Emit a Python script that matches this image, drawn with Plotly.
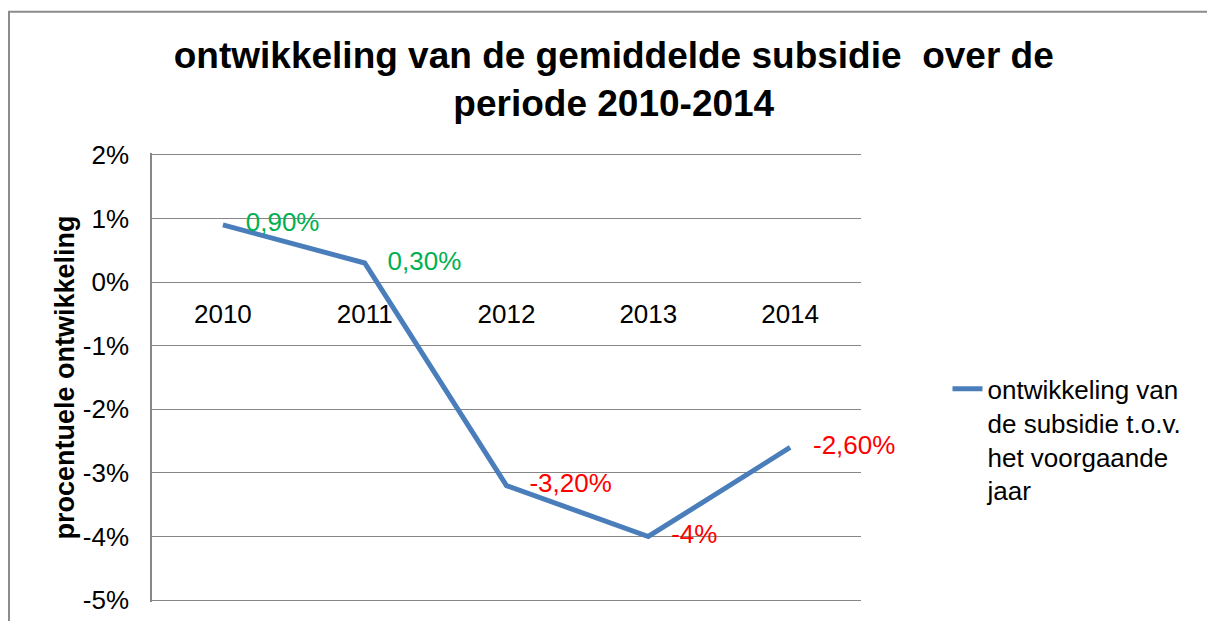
import plotly.graph_objects as go

years = ["2010", "2011", "2012", "2013", "2014"]
values = [0.9, 0.3, -3.2, -4.0, -2.6]
labels = ["0,90%", "0,30%", "-3,20%", "-4%", "-2,60%"]
label_colors = ["#00B050", "#00B050", "#FF0000", "#FF0000", "#FF0000"]
tick_vals = [2, 1, 0, -1, -2, -3, -4, -5]
tick_text = ["2%", "1%", "0%", "-1%", "-2%", "-3%", "-4%", "-5%"]
series_name = "ontwikkeling van<br>de subsidie t.o.v.<br>het voorgaande<br>jaar"
title_text = "<b>ontwikkeling van de gemiddelde subsidie &nbsp;over de<br>periode 2010-2014</b>"
y_title = "<b>procentuele ontwikkeling</b>"

FONT = "Arial, Liberation Sans, sans-serif"
GRID = "#878787"
Y_MIN, Y_MAX = -5, 2
PAD = 0.03  # tiny padding so the edge gridlines are drawn

fig = go.Figure()
fig.add_trace(go.Scatter(
    x=years, y=values, mode="lines+markers+text", name=series_name,
    line=dict(color="#4A7EBB", width=5),
    marker=dict(size=35, color="rgba(0,0,0,0)", line=dict(width=0)),
    text=labels, textposition="middle right",
    textfont=dict(size=26, color=label_colors, family=FONT),
    hoverinfo="skip", cliponaxis=False,
))

# outer chart border
fig.add_shape(type="rect", xref="paper", yref="paper",
              x0=-0.2017, x1=1.6, y0=-0.2, y1=1.3146,
              line=dict(color="#8C8C8C", width=2), layer="below")

px_per_unit = 445 / 7
pad_px = PAD * px_per_unit

fig.update_layout(
    width=1207, height=621,
    margin=dict(l=152, r=346, t=155 - pad_px, b=21 - pad_px, autoexpand=False),
    paper_bgcolor="white", plot_bgcolor="white",
    font=dict(family=FONT, size=26, color="black"),
    title=dict(text=title_text, x=0.5085, xanchor="center", yref="container",
               y=1 - 68 / 621, yanchor="middle",
               font=dict(size=37, family=FONT, color="black")),
    showlegend=True,
    legend=dict(x=1.122, xanchor="left", y=0.527, yanchor="top",
                valign="top", font=dict(size=26, family=FONT),
                bgcolor="rgba(0,0,0,0)", tracegroupgap=0),
    xaxis=dict(type="category", range=[-0.5, 4.5], anchor="free",
               position=(0 - (Y_MIN - PAD)) / (Y_MAX - Y_MIN + 2 * PAD),
               showgrid=False, showline=False, zeroline=False,
               ticks="", ticklabelstandoff=14, automargin=False,
               tickfont=dict(size=26, family=FONT)),
    yaxis=dict(range=[Y_MIN - PAD, Y_MAX + PAD], tickvals=tick_vals, ticktext=tick_text,
               showgrid=True, gridcolor=GRID, gridwidth=1.3, zeroline=False,
               showline=True, linecolor=GRID, linewidth=1.5,
               ticks="", ticklabelstandoff=16, automargin=False,
               tickfont=dict(size=26, family=FONT),
               title=dict(text=y_title, standoff=0,
                          font=dict(size=27, family=FONT))),
)

fig.write_html(
    "out.html",
    config={"displayModeBar": False},
    post_script="document.body.style.margin='0';document.body.style.overflow='hidden';",
)
